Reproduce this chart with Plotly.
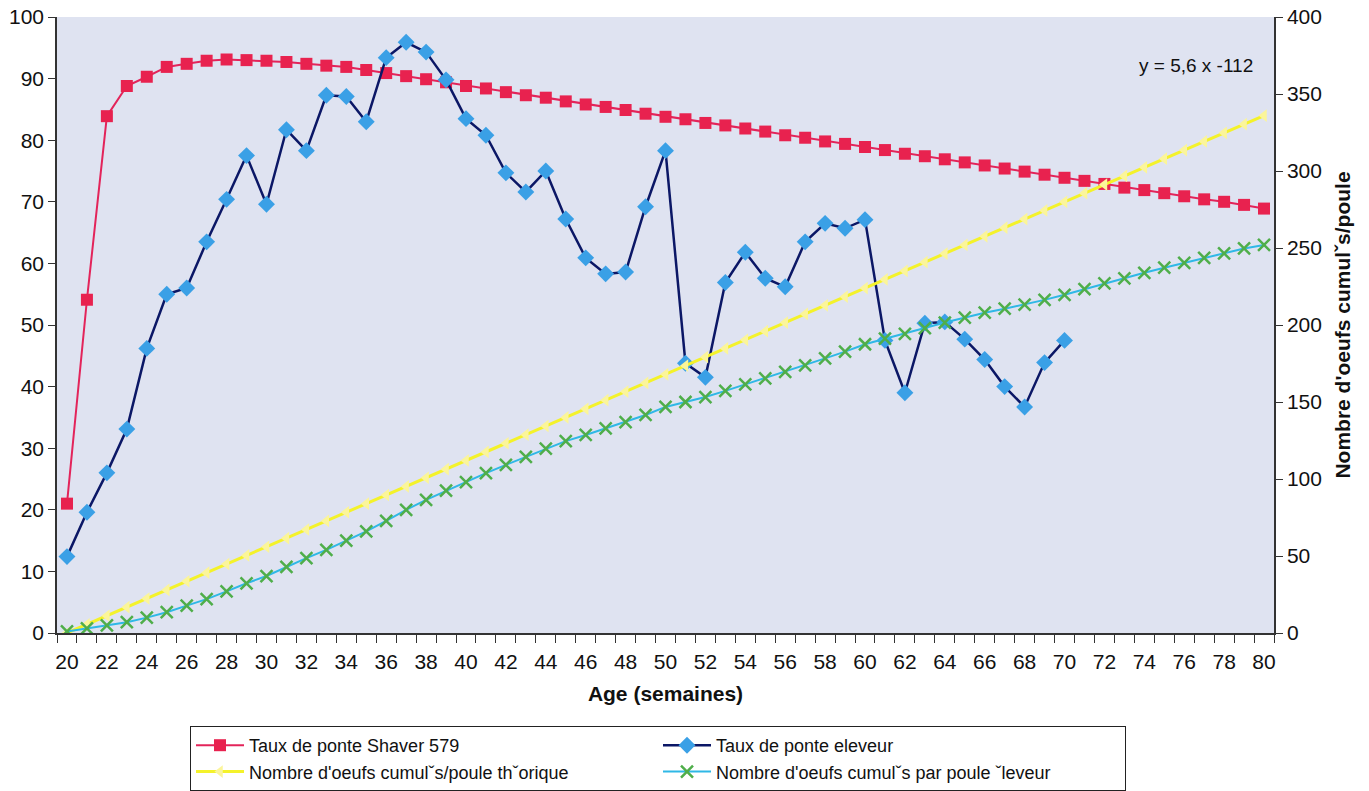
import plotly.graph_objects as go

weeks = list(range(20, 81))

taux_shaver = [21, 54.1, 83.9, 88.8, 90.3, 91.9, 92.4, 92.9, 93.1, 93.0,
               92.9, 92.7, 92.4, 92.1, 91.9, 91.4, 90.9, 90.4, 89.9, 89.4,
               88.8, 88.4, 87.8, 87.3, 86.9, 86.3, 85.8, 85.4, 84.9, 84.3,
               83.8, 83.4, 82.8, 82.4, 81.9, 81.4, 80.8, 80.4, 79.8, 79.4,
               78.9, 78.4, 77.8, 77.4, 76.9, 76.4, 75.9, 75.4, 74.9, 74.4,
               73.9, 73.4, 72.9, 72.3, 71.9, 71.4, 70.9, 70.4, 70.0, 69.5,
               68.9]

weeks_eleveur = list(range(20, 71))
taux_eleveur = [12.4, 19.6, 26.0, 33.1, 46.2, 55.0, 56.0, 63.5, 70.4, 77.5,
                69.6, 81.7, 78.3, 87.3, 87.1, 83.0, 93.4, 95.9, 94.3, 89.8,
                83.5, 80.8, 74.7, 71.6, 75.0, 67.2, 60.9, 58.3, 58.6, 69.2,
                78.3, 43.8, 41.5, 56.9, 61.8, 57.6, 56.2, 63.5, 66.5, 65.7,
                67.1, 47.5, 39.0, 50.3, 50.5, 47.7, 44.4, 40.0, 36.7, 43.9,
                47.5]

cumul_theorique = [0, 5.6, 11.2, 16.8, 22.4, 28.0, 33.6, 39.2, 44.8, 50.4,
                   56.0, 61.6, 67.2, 72.8, 78.4, 84.0, 89.6, 95.2, 100.8, 106.4,
                   112.0, 117.6, 123.2, 128.8, 134.4, 140.0, 145.6, 151.2, 156.8, 162.4,
                   168.0, 173.6, 179.2, 184.8, 190.4, 196.0, 201.6, 207.2, 212.8, 218.4,
                   224.0, 229.6, 235.2, 240.8, 246.4, 252.0, 257.6, 263.2, 268.8, 274.4,
                   280.0, 285.6, 291.2, 296.8, 302.4, 308.0, 313.6, 319.2, 324.8, 330.4,
                   336.0]

cumul_eleveur = [1, 3, 5, 7, 10, 13.5, 17.8, 22, 27, 32.3,
                 37, 43, 48.6, 54, 60, 66, 72.8, 80, 86.5, 92.4,
                 98, 103.8, 109.2, 114.4, 119.7, 124.6, 128.6, 132.8, 136.9, 141.6,
                 146.8, 150, 153.2, 157.2, 161.4, 165.3, 169.5, 173.8, 178.3, 182.7,
                 187.5, 191.1, 194.3, 198, 201.6, 204.8, 208, 210.6, 213.2, 216.3,
                 219.6, 223.3, 227, 230.3, 233.9, 237.2, 240.4, 243.6, 246.5, 249.7,
                 252]

x_labels = list(range(20, 81, 2))
left_ticks = list(range(0, 101, 10))
right_ticks = list(range(0, 401, 50))

FONT = "Arial, Liberation Sans, Helvetica, sans-serif"

W, H = 1369, 791
PLOT_L, PLOT_R, PLOT_T, PLOT_B = 57, 1274, 17, 633   # screen pixels
L, T, R, B = PLOT_L, PLOT_T, W - PLOT_R, H - PLOT_B
PW, PH = PLOT_R - PLOT_L, PLOT_B - PLOT_T


def px_x(sx):
    return (sx - PLOT_L) / PW


def px_y(sy):
    return (PLOT_B - sy) / PH


fig = go.Figure()

fig.add_trace(go.Scatter(
    x=weeks, y=taux_shaver, name="Taux de ponte Shaver 579",
    mode="lines+markers",
    line=dict(color="#e3245a", width=2),
    marker=dict(symbol="square", size=12, color="#e8224f"),
))
fig.add_trace(go.Scatter(
    x=weeks_eleveur, y=taux_eleveur, name="Taux de ponte eleveur",
    mode="lines+markers",
    line=dict(color="#0b1766", width=2.5),
    marker=dict(symbol="diamond", size=13, color="#3aa0e6"),
))
fig.add_trace(go.Scatter(
    x=weeks, y=cumul_theorique, name="Nombre d'oeufs cumulˇs/poule thˇorique",
    mode="lines+markers", yaxis="y2",
    line=dict(color="#f4f22a", width=3),
    marker=dict(symbol="triangle-left", size=11, color="#fbf59a"),
))
fig.add_trace(go.Scatter(
    x=weeks, y=cumul_eleveur, name="Nombre d'oeufs cumulˇs par poule ˇleveur",
    mode="lines+markers", yaxis="y2",
    line=dict(color="#2fb8e6", width=2),
    marker=dict(symbol="x-thin", size=12, color="#4fae4a",
                line=dict(color="#4fae4a", width=2.5)),
))

fig.add_annotation(
    x=px_x(1255), y=px_y(65), xref="paper", yref="paper",
    text="y = 5,6 x -112", showarrow=False,
    xanchor="right", yanchor="middle",
    font=dict(family=FONT, size=19, color="#111111"),
)

fig.update_layout(
    width=W, height=H,
    paper_bgcolor="white",
    plot_bgcolor="#dfe3f1",
    margin=dict(l=L, r=R, t=T, b=B, autoexpand=False),
    font=dict(family=FONT, size=21, color="#111111"),
    showlegend=True,
    legend=dict(
        orientation="h",
        x=px_x(190), xanchor="left",
        y=px_y(726), yanchor="top",
        itemwidth=48,
        entrywidth=404, entrywidthmode="pixels",
        bordercolor="#222222", borderwidth=1,
        bgcolor="white",
        font=dict(family=FONT, size=18, color="#111111"),
        tracegroupgap=0,
    ),
    xaxis=dict(
        range=[19.5, 80.5],
        tickmode="array", tickvals=x_labels, ticktext=[str(v) for v in x_labels],
        ticks="outside", ticklen=9, tickcolor="rgba(0,0,0,0)",
        showgrid=False, zeroline=False,
        showline=True, linecolor="#333333", linewidth=1.5,
        tickfont=dict(family=FONT, size=21),
        minor=dict(ticks="outside", tickmode="array",
                   tickvals=[v + 0.5 for v in range(19, 81)],
                   ticklen=8, tickcolor="#333333", tickwidth=1, showgrid=False),
        title=dict(text="<b>Age (semaines)</b>", font=dict(family=FONT, size=21), standoff=14),
        automargin=False,
    ),
    yaxis=dict(
        range=[0, 100], tickmode="array", tickvals=left_ticks,
        ticks="outside", ticklen=7, tickcolor="#333333",
        showgrid=False, zeroline=False,
        showline=True, linecolor="#333333", linewidth=1.5,
        tickfont=dict(family=FONT, size=21),
        ticklabeloverflow="allow",
        automargin=False,
    ),
    yaxis2=dict(
        range=[0, 400], tickmode="array", tickvals=right_ticks,
        overlaying="y", side="right", anchor="x",
        ticks="outside", ticklen=7, tickcolor="#333333",
        showgrid=False, zeroline=False,
        showline=True, linecolor="#333333", linewidth=1.5,
        tickfont=dict(family=FONT, size=21),
        ticklabeloverflow="allow",
        title=dict(text="<b>Nombre d'oeufs cumulˇs/poule</b>", font=dict(family=FONT, size=21), standoff=14),
        automargin=False,
    ),
)

fig.write_html(
    "out.html",
    config={"displayModeBar": False},
    post_script="document.body.style.margin='0px';document.body.style.overflow='hidden';",
)
